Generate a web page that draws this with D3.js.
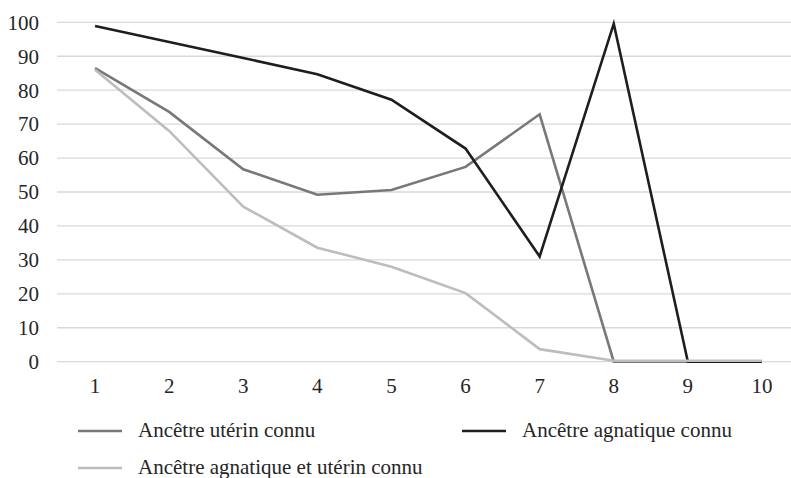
<!DOCTYPE html>
<html>
<head>
<meta charset="utf-8">
<script src="https://cdn.jsdelivr.net/npm/d3@7"></script>
<style>
  body { margin: 0; background: #fff; }
</style>
</head>
<body>
<svg id="chart" width="791" height="478"></svg>
<script>
const categories = ["1","2","3","4","5","6","7","8","9","10"];
const yTicks = [0,10,20,30,40,50,60,70,80,90,100];
const uterin = [86.5, 73.6, 56.7, 49.2, 50.6, 57.4, 72.9, 0, 0, 0];
const agnatique = [98.9, 94.2, 89.5, 84.7, 77.2, 62.8, 31, 99.6, 0, 0];
const both = [86, 68, 45.7, 33.6, 28, 20.2, 3.7, 0.3, 0.3, 0.3];
const seriesNames = ["Ancêtre utérin connu", "Ancêtre agnatique connu", "Ancêtre agnatique et utérin connu"];
const seriesColors = ["#787878", "#1e1e1e", "#bdbdbd"];
const FONT = "Liberation Serif";

const svg = d3.select("#chart");
const x = d3.scalePoint().domain(categories).range([58, 799]).padding(0.5);
const y = d3.scaleLinear().domain([0, 100]).range([361.7, 22.3]);

svg.append("g").selectAll("line").data(yTicks).join("line")
  .attr("x1", 57).attr("x2", 791)
  .attr("y1", d => y(d)).attr("y2", d => y(d))
  .attr("stroke", "#d9d9d9").attr("stroke-width", 1.3);

svg.append("g").selectAll("text").data(yTicks).join("text")
  .attr("x", 39).attr("y", d => y(d)).attr("dy", "0.35em")
  .style("font-family", FONT).attr("fill", "#262626")
  .attr("text-anchor", "end").attr("font-size", 21).text(d => d);

svg.append("g").selectAll("text").data(categories).join("text")
  .attr("x", d => x(d)).attr("y", 393)
  .style("font-family", FONT).attr("fill", "#262626")
  .attr("text-anchor", "middle").attr("font-size", 21).text(d => d);

const line = d3.line().x((d, i) => x(categories[i])).y(d => y(d));
[uterin, agnatique, both].forEach((s, i) => {
  svg.append("path").datum(s)
    .attr("fill", "none").attr("stroke", seriesColors[i])
    .attr("stroke-width", 2.6)
    .attr("d", line);
});

const legendPos = [[78, 431], [462, 431], [78, 468]];
seriesNames.forEach((n, i) => {
  const [lx, ly] = legendPos[i];
  svg.append("line").attr("x1", lx).attr("x2", lx + 44)
    .attr("y1", ly).attr("y2", ly)
    .attr("stroke", seriesColors[i]).attr("stroke-width", 2.6);
  svg.append("text").attr("x", lx + 60).attr("y", ly + 6)
    .style("font-family", FONT).attr("fill", "#262626")
    .attr("font-size", 21).text(n);
});
</script>
</body>
</html>
